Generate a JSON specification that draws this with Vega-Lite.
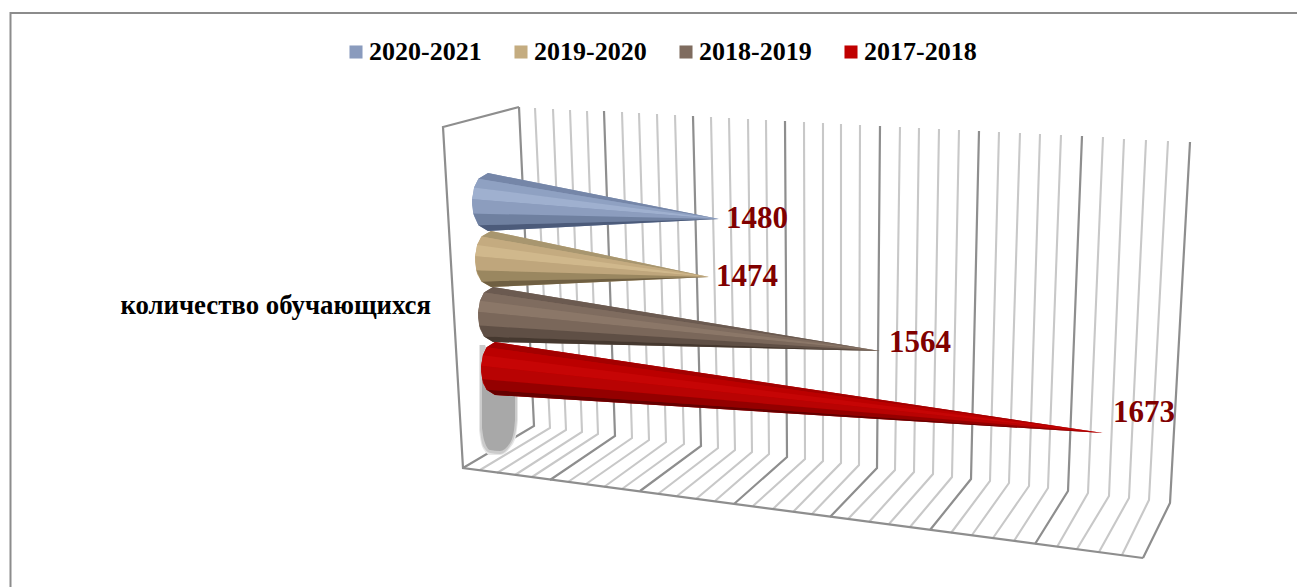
{"$schema":"https://vega.github.io/schema/vega-lite/v6.json","width":1297,"height":587,"padding":0,"autosize":{"type":"none"},"background":"#ffffff","view":{"stroke":null},
"config":{"text":{"font":"Liberation Serif"}},
"resolve":{"scale":{"fill":"independent"}},
"datasets":{
"grid":[
{"g":0,"t":"major","p":0,"x":519,"y":107},{"g":0,"t":"major","p":1,"x":534,"y":426},{"g":0,"t":"major","p":2,"x":463,"y":468},
{"g":1,"t":"minor","p":0,"x":535,"y":108},{"g":1,"t":"minor","p":1,"x":550,"y":428},{"g":1,"t":"minor","p":2,"x":480,"y":470},
{"g":2,"t":"minor","p":0,"x":553,"y":109},{"g":2,"t":"minor","p":1,"x":566,"y":430},{"g":2,"t":"minor","p":2,"x":497,"y":473},
{"g":3,"t":"minor","p":0,"x":570,"y":110},{"g":3,"t":"minor","p":1,"x":582,"y":432},{"g":3,"t":"minor","p":2,"x":515,"y":475},
{"g":4,"t":"minor","p":0,"x":587,"y":111},{"g":4,"t":"minor","p":1,"x":598,"y":434},{"g":4,"t":"minor","p":2,"x":532,"y":477},
{"g":5,"t":"major","p":0,"x":604,"y":111},{"g":5,"t":"major","p":1,"x":615,"y":436},{"g":5,"t":"major","p":2,"x":550,"y":480},
{"g":6,"t":"minor","p":0,"x":622,"y":112},{"g":6,"t":"minor","p":1,"x":632,"y":438},{"g":6,"t":"minor","p":2,"x":568,"y":482},
{"g":7,"t":"minor","p":0,"x":639,"y":113},{"g":7,"t":"minor","p":1,"x":649,"y":440},{"g":7,"t":"minor","p":2,"x":586,"y":484},
{"g":8,"t":"minor","p":0,"x":657,"y":114},{"g":8,"t":"minor","p":1,"x":666,"y":442},{"g":8,"t":"minor","p":2,"x":604,"y":487},
{"g":9,"t":"minor","p":0,"x":675,"y":115},{"g":9,"t":"minor","p":1,"x":684,"y":444},{"g":9,"t":"minor","p":2,"x":622,"y":489},
{"g":10,"t":"major","p":0,"x":693,"y":116},{"g":10,"t":"major","p":1,"x":701,"y":446},{"g":10,"t":"major","p":2,"x":640,"y":491},
{"g":11,"t":"minor","p":0,"x":711,"y":117},{"g":11,"t":"minor","p":1,"x":718,"y":448},{"g":11,"t":"minor","p":2,"x":658,"y":494},
{"g":12,"t":"minor","p":0,"x":729,"y":118},{"g":12,"t":"minor","p":1,"x":735,"y":450},{"g":12,"t":"minor","p":2,"x":677,"y":496},
{"g":13,"t":"minor","p":0,"x":748,"y":119},{"g":13,"t":"minor","p":1,"x":752,"y":452},{"g":13,"t":"minor","p":2,"x":696,"y":499},
{"g":14,"t":"minor","p":0,"x":766,"y":120},{"g":14,"t":"minor","p":1,"x":769,"y":454},{"g":14,"t":"minor","p":2,"x":715,"y":501},
{"g":15,"t":"major","p":0,"x":785,"y":121},{"g":15,"t":"major","p":1,"x":787,"y":457},{"g":15,"t":"major","p":2,"x":734,"y":504},
{"g":16,"t":"minor","p":0,"x":804,"y":122},{"g":16,"t":"minor","p":1,"x":805,"y":459},{"g":16,"t":"minor","p":2,"x":753,"y":506},
{"g":17,"t":"minor","p":0,"x":823,"y":123},{"g":17,"t":"minor","p":1,"x":823,"y":461},{"g":17,"t":"minor","p":2,"x":773,"y":509},
{"g":18,"t":"minor","p":0,"x":841,"y":124},{"g":18,"t":"minor","p":1,"x":841,"y":463},{"g":18,"t":"minor","p":2,"x":793,"y":512},
{"g":19,"t":"minor","p":0,"x":860,"y":125},{"g":19,"t":"minor","p":1,"x":859,"y":465},{"g":19,"t":"minor","p":2,"x":812,"y":514},
{"g":20,"t":"major","p":0,"x":880,"y":126},{"g":20,"t":"major","p":1,"x":877,"y":468},{"g":20,"t":"major","p":2,"x":830,"y":517},
{"g":21,"t":"minor","p":0,"x":900,"y":127},{"g":21,"t":"minor","p":1,"x":895,"y":470},{"g":21,"t":"minor","p":2,"x":848,"y":519},
{"g":22,"t":"minor","p":0,"x":919,"y":128},{"g":22,"t":"minor","p":1,"x":914,"y":472},{"g":22,"t":"minor","p":2,"x":869,"y":522},
{"g":23,"t":"minor","p":0,"x":939,"y":129},{"g":23,"t":"minor","p":1,"x":933,"y":474},{"g":23,"t":"minor","p":2,"x":889,"y":524},
{"g":24,"t":"minor","p":0,"x":959,"y":130},{"g":24,"t":"minor","p":1,"x":952,"y":477},{"g":24,"t":"minor","p":2,"x":910,"y":527},
{"g":25,"t":"major","p":0,"x":979,"y":131},{"g":25,"t":"major","p":1,"x":971,"y":479},{"g":25,"t":"major","p":2,"x":930,"y":530},
{"g":26,"t":"minor","p":0,"x":999,"y":132},{"g":26,"t":"minor","p":1,"x":990,"y":481},{"g":26,"t":"minor","p":2,"x":951,"y":533},
{"g":27,"t":"minor","p":0,"x":1020,"y":133},{"g":27,"t":"minor","p":1,"x":1009,"y":483},{"g":27,"t":"minor","p":2,"x":972,"y":535},
{"g":28,"t":"minor","p":0,"x":1040,"y":134},{"g":28,"t":"minor","p":1,"x":1029,"y":486},{"g":28,"t":"minor","p":2,"x":993,"y":538},
{"g":29,"t":"minor","p":0,"x":1061,"y":135},{"g":29,"t":"minor","p":1,"x":1048,"y":488},{"g":29,"t":"minor","p":2,"x":1014,"y":541},
{"g":30,"t":"major","p":0,"x":1082,"y":136},{"g":30,"t":"major","p":1,"x":1068,"y":491},{"g":30,"t":"major","p":2,"x":1035,"y":544},
{"g":31,"t":"minor","p":0,"x":1103,"y":137},{"g":31,"t":"minor","p":1,"x":1088,"y":493},{"g":31,"t":"minor","p":2,"x":1057,"y":547},
{"g":32,"t":"minor","p":0,"x":1124,"y":139},{"g":32,"t":"minor","p":1,"x":1109,"y":496},{"g":32,"t":"minor","p":2,"x":1077,"y":549},
{"g":33,"t":"minor","p":0,"x":1146,"y":140},{"g":33,"t":"minor","p":1,"x":1129,"y":498},{"g":33,"t":"minor","p":2,"x":1099,"y":552},
{"g":34,"t":"minor","p":0,"x":1168,"y":141},{"g":34,"t":"minor","p":1,"x":1149,"y":500},{"g":34,"t":"minor","p":2,"x":1122,"y":555},
{"g":35,"t":"major","p":0,"x":1190,"y":142},{"g":35,"t":"major","p":1,"x":1170,"y":503},{"g":35,"t":"major","p":2,"x":1143,"y":558},
{"g":36,"t":"major","p":0,"x":519,"y":107},{"g":36,"t":"major","p":1,"x":443,"y":127},{"g":36,"t":"major","p":2,"x":463,"y":468},{"g":36,"t":"major","p":3,"x":1143,"y":558},
{"g":37,"t":"frame","p":0,"x":10.5,"y":587},{"g":37,"t":"frame","p":1,"x":10.5,"y":13},{"g":37,"t":"frame","p":2,"x":1297,"y":13}
],
"shadow":[
{"s":"outer","x":479,"y":345,"y2":430},{"s":"outer","x":481,"y":345,"y2":443},{"s":"outer","x":484,"y":345,"y2":450},{"s":"outer","x":490,"y":380,"y2":455},{"s":"outer","x":500,"y":380,"y2":455},{"s":"outer","x":510,"y":380,"y2":448},{"s":"outer","x":516,"y":380,"y2":436},{"s":"outer","x":518,"y":396,"y2":420},
{"s":"mid","x":480,"y":345,"y2":430},{"s":"mid","x":482,"y":345,"y2":443},{"s":"mid","x":485,"y":345,"y2":449},{"s":"mid","x":490,"y":380,"y2":453},{"s":"mid","x":500,"y":380,"y2":454},{"s":"mid","x":510,"y":380,"y2":446},{"s":"mid","x":516,"y":396,"y2":430},{"s":"mid","x":517,"y":396,"y2":420},
{"s":"inner","x":482,"y":380,"y2":428},{"s":"inner","x":484,"y":380,"y2":440},{"s":"inner","x":490,"y":380,"y2":450},{"s":"inner","x":500,"y":380,"y2":451},{"s":"inner","x":510,"y":380,"y2":443},{"s":"inner","x":514,"y":396,"y2":430},{"s":"inner","x":515,"y":396,"y2":420}
],
"cones":[
{"series":"2020-2021","x":472.1,"y":199.1,"y2":205},{"series":"2020-2021","x":473.3,"y":193,"y2":213.6},{"series":"2020-2021","x":474.1,"y":187.5,"y2":216},{"series":"2020-2021","x":478.4,"y":178.8,"y2":225.2},{"series":"2020-2021","x":488,"y":173,"y2":231},{"series":"2020-2021","x":719,"y":219,"y2":219},
{"series":"2019-2020","x":475.1,"y":256.2,"y2":262},{"series":"2019-2020","x":476.3,"y":250,"y2":270.2},{"series":"2019-2020","x":477.1,"y":245,"y2":274},{"series":"2019-2020","x":481.4,"y":236.6,"y2":281.4},{"series":"2019-2020","x":491,"y":231,"y2":287},{"series":"2019-2020","x":709,"y":277,"y2":277},
{"series":"2018-2019","x":478.1,"y":311.8,"y2":318},{"series":"2018-2019","x":479.2,"y":306,"y2":325.5},{"series":"2018-2019","x":480,"y":300.8,"y2":329},{"series":"2018-2019","x":484,"y":292.5,"y2":336.5},{"series":"2018-2019","x":493,"y":287,"y2":342},{"series":"2018-2019","x":880,"y":351,"y2":351},
{"series":"2017-2018","x":481.1,"y":365.9,"y2":372},{"series":"2017-2018","x":482.2,"y":360,"y2":379.1},{"series":"2017-2018","x":482.9,"y":355.3,"y2":383},{"series":"2017-2018","x":486.6,"y":347.3,"y2":389.7},{"series":"2017-2018","x":495,"y":342,"y2":395},{"series":"2017-2018","x":1103,"y":433,"y2":433}
],
"bands":[
{"tone":"a1","x":478.4,"y":178.8,"y2":178.8},{"tone":"a1","x":488,"y":173,"y2":180.4},{"tone":"a1","x":719,"y":219,"y2":219},
{"tone":"a2","x":474.1,"y":187.5,"y2":187.5},{"tone":"a2","x":478.4,"y":178.8,"y2":188.1},{"tone":"a2","x":719,"y":219,"y2":219},
{"tone":"a3","x":472.1,"y":199.1,"y2":199.1},{"tone":"a3","x":474.1,"y":187.5,"y2":199.3},{"tone":"a3","x":719,"y":219,"y2":219},
{"tone":"a4","x":472.1,"y":199.1,"y2":199.1},{"tone":"a4","x":473.3,"y":199.2,"y2":213.6},{"tone":"a4","x":719,"y":219,"y2":219},
{"tone":"a5","x":473.3,"y":213.6,"y2":213.6},{"tone":"a5","x":478.4,"y":213.7,"y2":225.2},{"tone":"a5","x":719,"y":219,"y2":219},
{"tone":"a6","x":478.4,"y":225.2,"y2":225.2},{"tone":"a6","x":488,"y":225,"y2":231},{"tone":"a6","x":719,"y":219,"y2":219},
{"tone":"b1","x":481.4,"y":236.6,"y2":236.6},{"tone":"b1","x":491,"y":231,"y2":238.3},{"tone":"b1","x":709,"y":277,"y2":277},
{"tone":"b2","x":477.1,"y":245,"y2":245},{"tone":"b2","x":481.4,"y":236.6,"y2":245.6},{"tone":"b2","x":709,"y":277,"y2":277},
{"tone":"b3","x":475.1,"y":256.2,"y2":256.2},{"tone":"b3","x":477.1,"y":245,"y2":256.4},{"tone":"b3","x":709,"y":277,"y2":277},
{"tone":"b4","x":475.1,"y":256.2,"y2":256.2},{"tone":"b4","x":476.3,"y":256.3,"y2":270.2},{"tone":"b4","x":709,"y":277,"y2":277},
{"tone":"b5","x":476.3,"y":270.2,"y2":270.2},{"tone":"b5","x":481.4,"y":270.4,"y2":281.4},{"tone":"b5","x":709,"y":277,"y2":277},
{"tone":"b6","x":481.4,"y":281.4,"y2":281.4},{"tone":"b6","x":491,"y":281.2,"y2":287},{"tone":"b6","x":709,"y":277,"y2":277},
{"tone":"c1","x":484,"y":292.5,"y2":292.5},{"tone":"c1","x":493,"y":287,"y2":293.8},{"tone":"c1","x":880,"y":351,"y2":351},
{"tone":"c2","x":480,"y":300.8,"y2":300.8},{"tone":"c2","x":484,"y":292.5,"y2":301.3},{"tone":"c2","x":880,"y":351,"y2":351},
{"tone":"c3","x":478.1,"y":311.8,"y2":311.8},{"tone":"c3","x":480,"y":300.8,"y2":312},{"tone":"c3","x":880,"y":351,"y2":351},
{"tone":"c4","x":478.1,"y":311.8,"y2":311.8},{"tone":"c4","x":479.2,"y":311.9,"y2":325.5},{"tone":"c4","x":880,"y":351,"y2":351},
{"tone":"c5","x":479.2,"y":325.5,"y2":325.5},{"tone":"c5","x":484,"y":325.8,"y2":336.5},{"tone":"c5","x":880,"y":351,"y2":351},
{"tone":"c6","x":484,"y":336.5,"y2":336.5},{"tone":"c6","x":493,"y":336.8,"y2":342},{"tone":"c6","x":880,"y":351,"y2":351},
{"tone":"d1","x":486.6,"y":347.3,"y2":347.3},{"tone":"d1","x":495,"y":342,"y2":348.5},{"tone":"d1","x":1103,"y":433,"y2":433},
{"tone":"d2","x":482.9,"y":355.3,"y2":355.3},{"tone":"d2","x":486.6,"y":347.3,"y2":355.8},{"tone":"d2","x":1103,"y":433,"y2":433},
{"tone":"d3","x":481.1,"y":365.9,"y2":365.9},{"tone":"d3","x":482.9,"y":355.3,"y2":366.1},{"tone":"d3","x":1103,"y":433,"y2":433},
{"tone":"d4","x":481.1,"y":365.9,"y2":365.9},{"tone":"d4","x":482.2,"y":366,"y2":379.1},{"tone":"d4","x":1103,"y":433,"y2":433},
{"tone":"d5","x":482.2,"y":379.1,"y2":379.1},{"tone":"d5","x":486.6,"y":379.5,"y2":389.7},{"tone":"d5","x":1103,"y":433,"y2":433},
{"tone":"d6","x":486.6,"y":389.7,"y2":389.7},{"tone":"d6","x":495,"y":390.3,"y2":395},{"tone":"d6","x":1103,"y":433,"y2":433}
],
"values":[
{"series":"2020-2021","value":1480,"x":726,"y":219},
{"series":"2019-2020","value":1474,"x":716,"y":277},
{"series":"2018-2019","value":1564,"x":889,"y":343},
{"series":"2017-2018","value":1673,"x":1113,"y":413}
],
"category":[{"label":"количество обучающихся","x":431,"y":306}]
},
"encoding":{
"x":{"field":"x","type":"quantitative","scale":{"domain":[0,1297],"nice":false,"zero":false},"axis":null},
"y":{"field":"y","type":"quantitative","scale":{"domain":[587,0],"nice":false,"zero":false},"axis":null}
},
"layer":[
{"data":{"name":"grid"},"mark":{"type":"line","clip":false},"encoding":{
"detail":{"field":"g"},"order":{"field":"p"},
"stroke":{"field":"t","type":"nominal","legend":null,"scale":{"domain":["major","minor","frame"],"range":["#8e8e8e","#c8c8c8","#8c8c8c"]}},
"strokeWidth":{"field":"t","type":"nominal","legend":null,"scale":{"domain":["major","minor","frame"],"range":[2.2,2,2.6]}}
}},
{"data":{"name":"shadow"},"mark":{"type":"area","interpolate":"monotone"},"encoding":{
"y2":{"field":"y2"},
"fill":{"field":"s","type":"nominal","legend":null,"scale":{"domain":["outer","mid","inner"],"range":["#e6e6e6","#cbcbcb","#a8a8a8"]}}
}},
{"data":{"name":"cones"},"mark":{"type":"area"},"encoding":{
"y2":{"field":"y2"},
"color":{"field":"series","type":"nominal","title":null,"sort":["2020-2021","2019-2020","2018-2019","2017-2018"],"scale":{"domain":["2020-2021","2019-2020","2018-2019","2017-2018"],"range":["#8a9bbd","#c4ac80","#7f6c5f","#c00000"]},
"legend":{"orient":"none","legendX":343,"legendY":39,"direction":"horizontal","columns":4,"padding":0,"symbolType":"square","symbolSize":170,"symbolStrokeWidth":0,"labelFont":"Liberation Serif","labelFontWeight":"bold","labelFontSize":26,"labelColor":"#000000","labelOffset":0,"columnPadding":26,"title":null,"labelLimit":200}}
}},
{"data":{"name":"bands"},"mark":{"type":"area"},"encoding":{
"y2":{"field":"y2"},"detail":{"field":"tone"},
"fill":{"field":"tone","type":"nominal","legend":null,"scale":{"domain":["a1","a2","a3","a4","a5","a6","b1","b2","b3","b4","b5","b6","c1","c2","c3","c4","c5","c6","d1","d2","d3","d4","d5","d6"],"range":["#7586a8","#8fa1c2","#9fb0cf","#8c9dbe","#6f80a0","#4c5b7a","#a8966f","#c4ab80","#d0b88c","#bfa67c","#9a8760","#6f5f42","#6b5a50","#7f6c5f","#8b7768","#7a675a","#5f4f45","#45382f","#a30000","#bb0000","#c60505","#b80303","#940000","#660000"]}}
}},
{"data":{"name":"values"},"mark":{"type":"text","align":"left","baseline":"middle","font":"Liberation Serif","fontWeight":"bold","fontSize":31,"color":"#800000"},"encoding":{"text":{"field":"value","type":"quantitative","format":"d"}}},
{"data":{"name":"category"},"mark":{"type":"text","align":"right","baseline":"middle","font":"Liberation Serif","fontWeight":"bold","fontSize":26.8,"color":"#000000"},"encoding":{"text":{"field":"label","type":"nominal"}}}
]
}
